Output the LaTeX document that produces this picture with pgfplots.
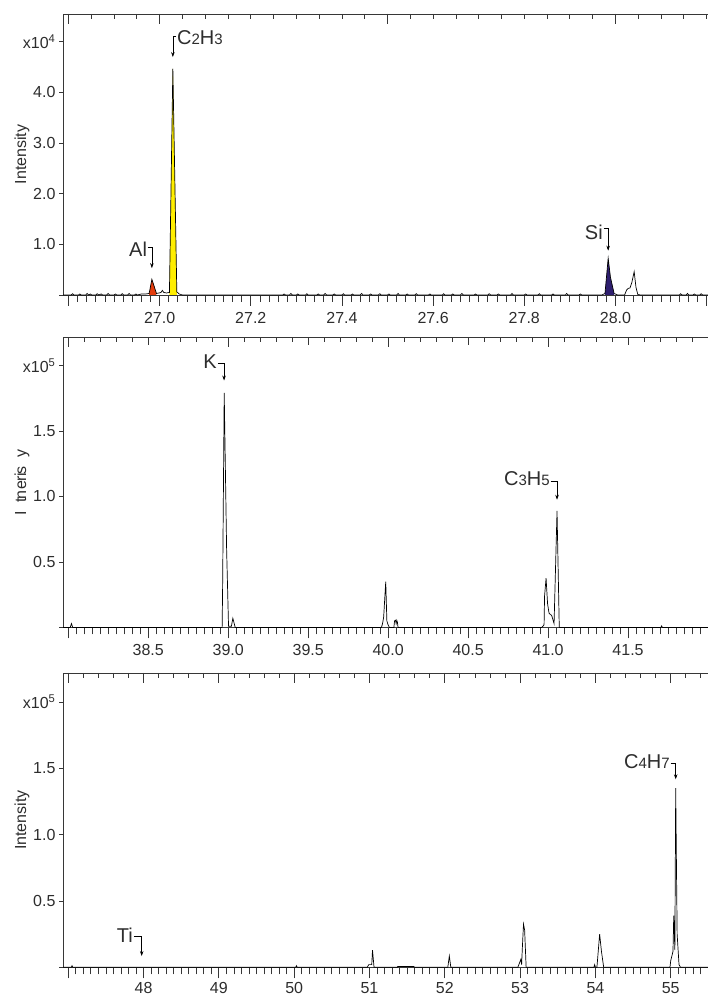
\documentclass[border=0pt]{standalone}
\usepackage{fontspec}
\setmainfont{Liberation Sans}
\usepackage{pgfplots}
\pgfplotsset{compat=1.18}
\usetikzlibrary{arrows.meta}

\definecolor{axgray}{RGB}{55,55,55}
\definecolor{lblgray}{RGB}{45,45,45}
\definecolor{alred}{RGB}{228,60,12}
\definecolor{cyellow}{RGB}{255,238,0}
\definecolor{siblue}{RGB}{46,30,110}

\newcommand{\tk}{\fontsize{16}{18}\selectfont}
\newcommand{\an}{\fontsize{20}{22}\selectfont}
\newcommand{\sm}[1]{{\fontsize{15}{17}\selectfont #1}}

\tikzset{arr/.style={draw=black, line width=0.6pt, -{Stealth[length=5pt,width=3.5pt]}}}

\pgfplotsset{
  base/.style={scale only axis, anchor=south west, width=645pt, clip=false,
    axis line style={-, draw=axgray, line width=0.9pt},
    tick style={draw=axgray, line width=0.8pt}},
  bottomx/.style={base, axis x line*=bottom, axis y line=none,
    tick align=outside, major tick length=11pt, minor tick length=7pt,
    xticklabel style={font=\tk, text=lblgray, yshift=-2.5pt}},
  topx/.style={base, axis x line*=top, axis y line=none,
    tick align=inside, major tick length=10pt, minor tick length=5pt,
    xticklabels={}},
  lefty/.style={base, axis x line=none, axis y line*=left, xmin=0, xmax=1,
    tick align=outside, major tick length=4pt,
    yticklabel style={font=\tk, text=lblgray},
    every axis y label/.style={at={(axis description cs:-0.0636,0.5)},
      rotate=90, anchor=center, font=\tk, text=lblgray}},
  spec/.style={black, line width=0.7pt, no marks},
}

\begin{document}
\begin{tikzpicture}
\path[use as bounding box] (0,0) rectangle (708pt,996pt);

% ---------------- panel 1 : m/z 26.8 - 28.2 (x10^4)
\begin{axis}[topx, at={(63pt,701pt)}, height=281pt,
  xmin=26.788, xmax=28.203, ymin=0, ymax=5.55,
  xtick={26.8,27.0,27.5,28.0}, minor xtick={26.8,26.85,...,28.2}]
\end{axis}
\begin{axis}[lefty, at={(63pt,701pt)}, height=281pt, ymin=0, ymax=5.55,
  ytick={0,1,2,3,4,5}, yticklabels={,1.0,2.0,3.0,4.0,{x10\textsuperscript{4}}},
  ylabel={Intensity}]
\end{axis}
\begin{axis}[bottomx, at={(63pt,701pt)}, height=281pt,
  xmin=26.788, xmax=28.203, ymin=0, ymax=5.55,
  xtick={26.8,27.0,27.2,27.4,27.6,27.8,28.0,28.2},
  xticklabels={,27.0,27.2,27.4,27.6,27.8,28.0,},
  minor xtick={26.8,26.82,...,28.2}]
\addplot[fill=alred, draw=none] coordinates {
(26.977,0)(26.977,0.03)(26.983,0.31)(26.987,0.2)(26.993,0.03)(26.993,0)};
\addplot[fill=cyellow, draw=none] coordinates {
(27.0215,0)(27.0215,0.05)(27.029,4.47)(27.0377,0.06)(27.0377,0)};
\addplot[fill=siblue, draw=none] coordinates {
(27.977,0)(27.977,0.03)(27.984,0.725)(27.989,0.35)(27.997,0.03)(27.997,0)};
\addplot[spec] coordinates {
(26.788,0)(26.806,0)(26.809,0.025)(26.812,0)(26.822,0)(26.825,0.02)(26.828,0)
(26.838,0)(26.841,0.03)(26.844,0)(26.848,0.02)(26.851,0)(26.86,0)(26.863,0.025)
(26.866,0)(26.872,0.02)(26.875,0)(26.884,0)(26.887,0.03)(26.89,0)(26.9,0)
(26.903,0.02)(26.906,0)(26.915,0)(26.918,0.025)(26.921,0)(26.93,0)(26.933,0.03)
(26.936,0)(26.945,0)(26.948,0.02)(26.951,0)(26.96,0.02)(26.97,0.02)
(26.977,0.03)(26.983,0.31)(26.987,0.2)(26.993,0.03)(26.999,0.04)(27.003,0.05)
(27.006,0.09)(27.009,0.05)(27.015,0.04)(27.0215,0.05)(27.029,4.47)(27.0377,0.06)
(27.043,0.02)(27.05,0)(27.27,0)(27.273,0.02)(27.276,0)(27.285,0)(27.288,0.03)
(27.291,0)(27.30,0)(27.303,0.02)(27.306,0)(27.32,0)(27.323,0.025)(27.326,0)
(27.345,0)(27.348,0.02)(27.351,0)(27.36,0)(27.363,0.03)(27.366,0)(27.38,0)
(27.383,0.02)(27.386,0)(27.4,0)(27.403,0.025)(27.406,0)(27.42,0)(27.423,0.02)
(27.426,0)(27.44,0)(27.443,0.03)(27.446,0)(27.46,0)(27.463,0.02)(27.466,0)
(27.48,0)(27.483,0.025)(27.486,0)(27.5,0)(27.503,0.02)(27.506,0)(27.52,0)
(27.523,0.03)(27.526,0)(27.54,0)(27.543,0.02)(27.546,0)(27.56,0)(27.563,0.025)
(27.566,0)(27.59,0)(27.593,0.02)(27.596,0)(27.62,0)(27.623,0.025)(27.626,0)
(27.64,0)(27.643,0.02)(27.646,0)(27.66,0)(27.663,0.03)(27.666,0)(27.69,0)
(27.693,0.02)(27.696,0)(27.72,0)(27.723,0.025)(27.726,0)(27.74,0)(27.743,0.02)
(27.746,0)(27.77,0)(27.773,0.03)(27.776,0)(27.8,0)(27.803,0.02)(27.806,0)
(27.83,0)(27.833,0.025)(27.836,0)(27.86,0)(27.863,0.02)(27.866,0)(27.89,0)
(27.893,0.03)(27.896,0)(27.92,0)(27.923,0.02)(27.926,0)(27.97,0)(27.977,0.03)
(27.984,0.725)(27.989,0.35)(27.997,0.03)(28.005,0)(28.02,0)(28.0245,0.1)
(28.028,0.13)(28.032,0.14)(28.036,0.25)(28.041,0.46)(28.045,0.15)(28.049,0.01)
(28.055,0)(28.14,0)(28.143,0.025)(28.146,0)(28.155,0)(28.158,0.03)(28.161,0)
(28.17,0)(28.173,0.02)(28.176,0)(28.185,0)(28.188,0.025)(28.191,0)(28.203,0)};
% annotations
\draw[arr] (axis cs:26.9735,0.95) -- (axis cs:26.983,0.95) -- (axis cs:26.983,0.53);
\node[font=\an, text=lblgray, anchor=base east, inner sep=0pt] at (axis cs:26.9726,0.77) {Al};
\draw[arr] (axis cs:27.036,5.10) -- (axis cs:27.029,5.10) -- (axis cs:27.029,4.70);
\node[font=\an, text=lblgray, anchor=base west, inner sep=0pt] at (axis cs:27.038,4.94) {C\sm{2}H\sm{3}};
\draw[arr] (axis cs:27.974,1.32) -- (axis cs:27.984,1.32) -- (axis cs:27.984,0.875);
\node[font=\an, text=lblgray, anchor=base east, inner sep=0pt] at (axis cs:27.9726,1.087) {Si};
\end{axis}

% ---------------- panel 2 : m/z 38 - 42 (x10^5)
\begin{axis}[topx, at={(63pt,368.5pt)}, height=290.2pt,
  xmin=37.967, xmax=42.0, ymin=0, ymax=2.215,
  xtick={38,39,40,41,42}, minor xtick={38,38.1,...,42},
  extra x ticks={38.5,39.5,40.5,41.5}, extra x tick labels={},
  extra x tick style={major tick length=7.5pt}]
\end{axis}
\begin{axis}[lefty, at={(63pt,368.5pt)}, height=290.2pt, ymin=0, ymax=2.215,
  ytick={0,0.5,1,1.5,2}, yticklabels={,0.5,1.0,1.5,{x10\textsuperscript{5}}},
  ylabel={I\hspace{9pt}t\hspace{-2pt}n\hspace{1pt}er\hspace{-1pt}i\hspace{-1pt}s\hspace{9pt}y}]
\end{axis}
\begin{axis}[bottomx, at={(63pt,368.5pt)}, height=290.2pt,
  xmin=37.967, xmax=42.0, ymin=0, ymax=2.215,
  xtick={38,38.5,39,39.5,40,40.5,41,41.5,42},
  xticklabels={,38.5,39.0,39.5,40.0,40.5,41.0,41.5,},
  minor xtick={38,38.05,...,42}]
\addplot[spec] coordinates {
(37.967,0)(38.012,0)(38.02,0.03)(38.028,0)(38.962,0)(38.965,0.3)(38.975,1.79)
(38.99,0.6)(39.002,0.01)(39.02,0.01)(39.029,0.07)(39.044,0)(39.958,0)
(39.965,0.03)(39.972,0.08)(39.985,0.35)(39.992,0.05)(40.0,0.02)(40.008,0)
(40.036,0)(40.04,0.05)(40.046,0.055)(40.05,0.03)(40.054,0.055)(40.058,0.04)
(40.062,0)(40.96,0)(40.975,0.02)(40.978,0.24)(40.9875,0.376)(40.997,0.18)
(41.006,0.11)(41.023,0.09)(41.0375,0.03)(41.056,0.89)(41.07,0)(41.705,0)
(41.71,0.012)(41.715,0)(42.0,0)};
\draw[arr] (axis cs:38.936,2.02) -- (axis cs:38.974,2.02) -- (axis cs:38.974,1.885);
\node[font=\an, text=lblgray, anchor=base east, inner sep=0pt] at (axis cs:38.929,1.977) {K};
\draw[arr] (axis cs:41.016,1.115) -- (axis cs:41.056,1.115) -- (axis cs:41.056,0.975);
\node[font=\an, text=lblgray, anchor=base east, inner sep=0pt] at (axis cs:41.011,1.084) {C\sm{3}H\sm{5}};
\end{axis}

% ---------------- panel 3 : m/z 47 - 55.5 (x10^5)
\begin{axis}[topx, at={(63pt,28.7pt)}, height=294.3pt,
  xmin=46.93, xmax=55.495, ymin=0, ymax=2.218,
  xtick={47,48,...,55}, minor xtick={47,47.2,...,55.4}]
\end{axis}
\begin{axis}[lefty, at={(63pt,28.7pt)}, height=294.3pt, ymin=0, ymax=2.218,
  ytick={0,0.5,1,1.5,2}, yticklabels={,0.5,1.0,1.5,{x10\textsuperscript{5}}},
  ylabel={Intensity}]
\end{axis}
\begin{axis}[bottomx, at={(63pt,28.7pt)}, height=294.3pt,
  xmin=46.93, xmax=55.495, ymin=0, ymax=2.218,
  xtick={47,48,...,55}, xticklabels={,48,49,50,51,52,53,54,55},
  xticklabel style={yshift=2pt},
  minor xtick={47,47.1,...,55.5}]
\addplot[spec] coordinates {
(46.93,0)(47.04,0)(47.05,0.012)(47.06,0)(50.02,0)(50.03,0.012)(50.04,0)
(50.97,0)(50.99,0.02)(51.03,0.02)(51.04,0.13)(51.06,0)(51.37,0)(51.375,0.006)
(51.59,0.006)(51.595,0)(52.04,0)(52.06,0.085)(52.08,0)(52.97,0)(52.99,0.03)
(53.01,0.06)(53.02,0.02)(53.03,0.15)(53.045,0.325)(53.06,0.28)(53.08,0)
(53.98,0)(53.99,0.02)(54.0,0)(54.02,0)(54.056,0.25)(54.08,0.12)(54.11,0)
(54.99,0)(55.0,0.05)(55.03,0.12)(55.04,0.39)(55.055,0.13)(55.066,1.35)
(55.085,0.25)(55.11,0.02)(55.13,0)(55.495,0)};
\draw[arr] (axis cs:47.87,0.23) -- (axis cs:47.975,0.23) -- (axis cs:47.975,0.085);
\node[font=\an, text=lblgray, anchor=base east, inner sep=0pt] at (axis cs:47.86,0.184) {Ti};
\draw[arr] (axis cs:55.0,1.537) -- (axis cs:55.066,1.537) -- (axis cs:55.066,1.417);
\node[font=\an, text=lblgray, anchor=base east, inner sep=0pt] at (axis cs:54.99,1.50) {C\sm{4}H\sm{7}};
\end{axis}
\end{tikzpicture}
\end{document}
